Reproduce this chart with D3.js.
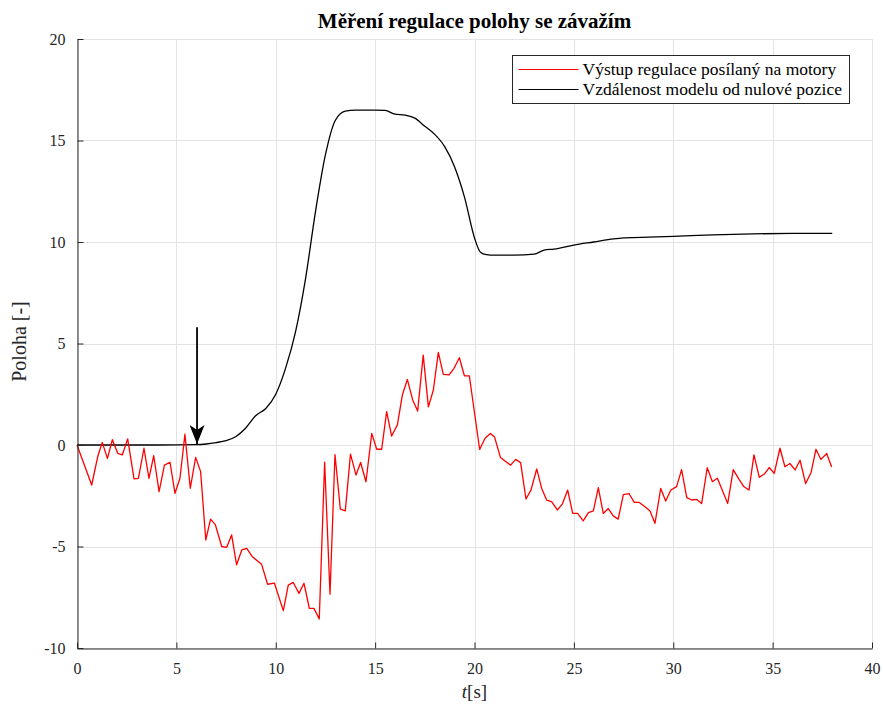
<!DOCTYPE html>
<html>
<head>
<meta charset="utf-8">
<script src="https://cdn.jsdelivr.net/npm/d3@7"></script>
<style>
  body { margin: 0; background: #fff; }
  text { font-family: "Liberation Serif", "Times New Roman", serif; }
</style>
</head>
<body>
<svg id="chart" width="883" height="704"></svg>
<script>
// measured control output (red)
var regT = [0, 0.74, 1.04, 1.27, 1.53, 1.78, 2.05, 2.28, 2.55, 2.87, 3.09, 3.37, 3.62, 3.86, 4.13, 4.4, 4.68, 4.93, 5.18, 5.43, 5.7, 5.97, 6.22,
  6.48, 6.72, 6.96, 7.28, 7.53, 7.78, 8.03, 8.29, 8.54, 8.82, 9.29, 9.59, 9.93, 10.38, 10.63, 10.88, 11.17, 11.42, 11.69, 11.92, 12.19,
  12.46, 12.73, 12.98, 13.25, 13.5, 13.76, 14.04, 14.27, 14.54, 14.83, 15.08, 15.33, 15.58, 15.83, 16.12, 16.37, 16.62, 16.89, 17.14,
  17.42, 17.68, 17.93, 18.18, 18.43, 18.72, 18.97, 19.24, 19.49, 19.74, 20.26, 20.53, 20.8, 21.01, 21.3, 21.53, 21.82, 22.07, 22.32,
  22.59, 22.84, 23.13, 23.38, 23.63, 23.88, 24.17, 24.42, 24.69, 24.94, 25.19, 25.47, 25.73, 25.98, 26.23, 26.48, 26.73, 26.98, 27.23,
  27.49, 27.77, 28.04, 28.29, 28.58, 28.83, 29.08, 29.37, 29.62, 29.88, 30.17, 30.42, 30.68, 30.93, 31.18, 31.43, 31.71, 31.97, 32.22,
  32.74, 33.02, 33.31, 33.56, 33.81, 34.06, 34.33, 34.58, 34.83, 35.08, 35.37, 35.62, 35.87, 36.13, 36.38, 36.66, 36.93, 37.18, 37.43,
  37.72, 37.97];
var regV = [0, -1.97, -0.58, 0.13, -0.66, 0.26, -0.41, -0.49, 0.3, -1.67, -1.64, -0.16, -1.64, -0.53, -2.3, -0.99, -0.85, -2.38, -1.64, 0.53, -2.13, -0.61, -1.31,
  -4.68, -3.65, -3.92, -5.0, -5.04, -4.43, -5.9, -5.17, -5.09, -5.5, -5.88, -6.86, -6.8, -8.16, -6.9, -6.77, -7.31, -6.81, -8.05, -8.05, -8.57,
  -0.85, -7.35, -0.47, -3.16, -3.24, -0.45, -1.48, -0.86, -1.81, 0.57, -0.21, -0.21, 1.64, 0.44, 0.99, 2.46, 3.23, 2.22, 1.67,
  4.43, 1.88, 2.71, 4.56, 3.48, 3.45, 3.78, 4.3, 3.41, 3.41, -0.22, 0.33, 0.57, 0.39, -0.6, -0.79, -0.99, -0.71, -0.87,
  -2.66, -2.22, -1.18, -2.14, -2.71, -2.79, -3.2, -2.91, -2.22, -3.37, -3.37, -3.74, -3.33, -3.25, -2.1, -3.37, -3.13, -3.49, -3.65,
  -2.44, -2.39, -2.83, -2.83, -3.04, -3.25, -3.86, -2.14, -2.76, -2.22, -2.05, -1.21, -2.59, -2.71, -2.68, -2.88, -1.12, -1.81, -1.64,
  -2.88, -1.21, -1.69, -2.06, -2.22, -0.49, -1.59, -1.43, -1.11, -1.4, -0.16, -1.07, -0.91, -1.23, -0.75, -1.9, -1.37, -0.21, -0.71,
  -0.42, -1.08];

// model distance from zero position (black)
var posT = [0, 2, 4, 6, 6.5, 7, 7.5, 8, 8.5, 9, 9.5, 10, 10.5, 11, 11.5, 12, 12.5, 13, 13.5, 14, 14.5, 15, 15.5, 16, 16.5, 17,
  17.5, 18, 18.5, 19, 19.5, 20, 20.3, 20.6, 21, 22, 23, 23.5, 24, 25, 26, 27, 27.5, 28, 30, 32, 34, 36, 38];
var posV = [0, 0, 0, 0.02, 0.05, 0.12, 0.22, 0.42, 0.85, 1.45, 1.8, 2.5, 3.8, 5.6, 8.2, 11.5, 14.3, 16, 16.45, 16.5, 16.5, 16.5, 16.48, 16.3, 16.25, 16.1,
  15.7, 15.3, 14.7, 13.7, 12.2, 10.2, 9.5, 9.38, 9.35, 9.35, 9.4, 9.6, 9.65, 9.85, 10.0, 10.15, 10.2, 10.22, 10.28, 10.35, 10.4, 10.42, 10.42];

var xTicks = [0, 5, 10, 15, 20, 25, 30, 35, 40];
var yTicks = [-10, -5, 0, 5, 10, 15, 20];
var legendLabels = ["Výstup regulace posílaný na motory", "Vzdálenost modelu od nulové pozice"];
var seriesColors = ["#ff0000", "#000000"];
var arrowT = 6.04, arrowFrom = 5.8, arrowTo = 0.05;

var margin = {left: 77, right: 11, top: 39, bottom: 56};
var svg = d3.select("#chart");
var W = +svg.attr("width"), H = +svg.attr("height");

var x = d3.scaleLinear().domain([0, 40]).range([margin.left, W - margin.right]);
var y = d3.scaleLinear().domain([-10, 20]).range([H - margin.bottom, margin.top]);

// grid
var grid = svg.append("g").attr("stroke", "#e3e3e3").attr("stroke-width", 1);
grid.selectAll(".gx").data(xTicks).enter().append("line")
  .attr("x1", d => Math.round(x(d)) + 0.5).attr("x2", d => Math.round(x(d)) + 0.5)
  .attr("y1", y(-10)).attr("y2", y(20));
grid.selectAll(".gy").data(yTicks).enter().append("line")
  .attr("y1", d => Math.round(y(d)) + 0.5).attr("y2", d => Math.round(y(d)) + 0.5)
  .attr("x1", x(0)).attr("x2", x(40));

// lines
var lineReg = d3.line().x((d, i) => x(regT[i])).y(d => y(d));
var linePos = d3.line().x((d, i) => x(posT[i])).y(d => y(d)).curve(d3.curveMonotoneX);

svg.append("path").datum(posV).attr("d", linePos)
  .attr("fill", "none").attr("stroke", seriesColors[1]).attr("stroke-width", 1.3);
svg.append("path").datum(regV).attr("d", lineReg)
  .attr("fill", "none").attr("stroke", seriesColors[0]).attr("stroke-width", 1.3)
  .attr("stroke-linejoin", "round");

// axes
var fmt = d => String(d);
var xAxis = svg.append("g").attr("transform", "translate(0," + (Math.round(y(-10)) + 0.5) + ")")
  .call(d3.axisBottom(x).tickValues(xTicks).tickSizeInner(-6).tickSizeOuter(0).tickPadding(14).tickFormat(fmt));
var yAxis = svg.append("g").attr("transform", "translate(" + (Math.round(x(0)) + 0.5) + ",0)")
  .call(d3.axisLeft(y).tickValues(yTicks).tickSizeInner(-6).tickSizeOuter(0).tickPadding(12).tickFormat(fmt));
[xAxis, yAxis].forEach(function(a) {
  a.select(".domain").attr("stroke", "#262626");
  a.selectAll(".tick line").attr("stroke", "#262626");
  a.selectAll(".tick text").attr("fill", "#262626")
    .style("font-family", "'Liberation Serif', serif").style("font-size", "16px");
});

// arrow
var defs = svg.append("defs");
defs.append("marker").attr("id", "ah").attr("viewBox", "0 0 19 15")
  .attr("refX", 19).attr("refY", 7.5).attr("markerWidth", 19).attr("markerHeight", 15)
  .attr("markerUnits", "userSpaceOnUse").attr("orient", "auto")
  .append("path").attr("d", "M0,0 L19,7.5 L0,15 L5,7.5 Z").attr("fill", "#000");
svg.append("line")
  .attr("x1", x(arrowT)).attr("x2", x(arrowT))
  .attr("y1", y(arrowFrom)).attr("y2", y(arrowTo))
  .attr("stroke", "#000").attr("stroke-width", 1.8).attr("marker-end", "url(#ah)");

// title and labels
svg.append("text").attr("x", (x(0) + x(40)) / 2).attr("y", 28)
  .attr("text-anchor", "middle").attr("font-weight", "bold").attr("font-size", 21)
  .text("Měření regulace polohy se závažím");

svg.append("text").attr("transform", "translate(26," + (y(5) - 2) + ") rotate(-90)")
  .attr("text-anchor", "middle").attr("font-size", 20).attr("fill", "#262626")
  .text("Poloha [-]");

var xl = svg.append("text").attr("x", (x(0) + x(40)) / 2).attr("y", 698)
  .attr("text-anchor", "middle").attr("font-size", 19).attr("fill", "#262626");
xl.append("tspan").attr("font-style", "italic").text("t");
xl.append("tspan").text("[s]");

// legend
var lg = svg.append("g").attr("transform", "translate(512.5,55.5)");
lg.append("rect").attr("width", 337).attr("height", 48)
  .attr("fill", "#fff").attr("stroke", "#262626").attr("stroke-width", 1);
legendLabels.forEach(function(lbl, i) {
  var yy = 14 + i * 20;
  lg.append("line").attr("x1", 6).attr("x2", 66).attr("y1", yy).attr("y2", yy)
    .attr("stroke", seriesColors[i]).attr("stroke-width", 1.2);
  lg.append("text").attr("x", 70).attr("y", yy + 5).attr("font-size", 17.5).attr("fill", "#000").text(lbl);
});
</script>
</body>
</html>
